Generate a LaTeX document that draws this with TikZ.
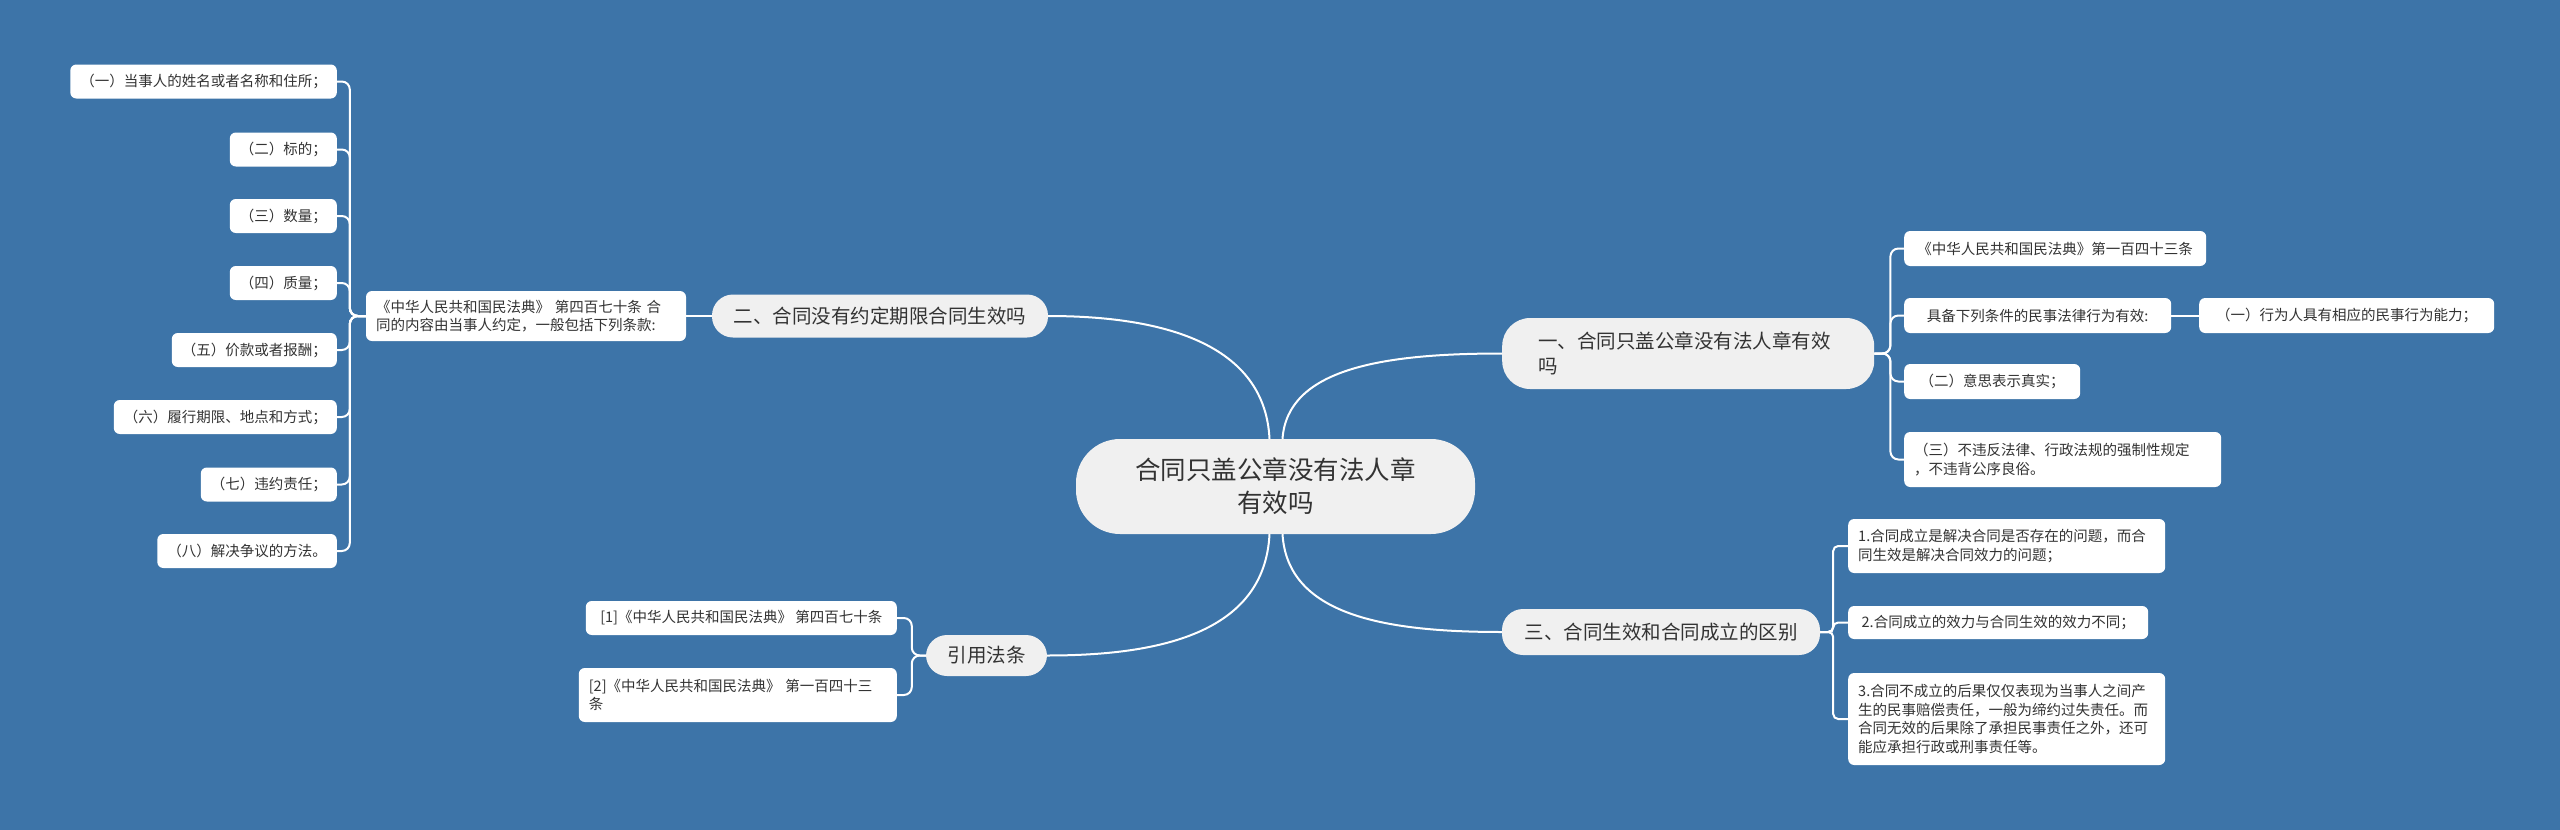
\documentclass[tikz,border=0pt]{standalone}
\usepackage{fontspec}
\setmainfont{Noto Sans CJK SC}
\definecolor{bgblue}{RGB}{61,116,168}
\definecolor{pillgray}{RGB}{240,240,240}
\definecolor{inkgray}{RGB}{51,51,51}
\tikzset{
  root/.style={fill=pillgray, text=inkgray, rounded corners=44pt, align=center,
    font=\fontsize{25.5}{33}\selectfont, minimum width=399pt, minimum height=95pt, inner sep=0pt},
  branch/.style={fill=pillgray, text=inkgray, rounded corners=21pt,
    font=\fontsize{19.5}{25}\selectfont, inner sep=0pt},
  leaf/.style={fill=white, text=inkgray, rounded corners=6pt,
    font=\fontsize{14.5}{18.7}\selectfont, inner xsep=10pt, inner ysep=0pt},
  link/.style={draw=white, line width=2pt, rounded corners=8pt},
}
\begin{document}
\begin{tikzpicture}[x=1pt, y=-1pt]
    % Background (pixel grid: 2560 x 830, y downwards)
    \fill[bgblue] (0,0) rectangle (2560,830);
    \useasboundingbox (0,0) rectangle (2560,830);

    % Root and main topics
    \node[root] (root) at (1275.5,486.5) {合同只盖公章没有法人章\\有效吗};
    \node[branch, anchor=west, rounded corners=28pt, inner xsep=36pt, text width=300pt,
      align=left, minimum height=71pt] (b1) at (1502,353.5) {一、合同只盖公章没有法人章有效\\吗};
    \node[branch, minimum width=336pt, minimum height=43pt] (b2) at (880,316) {二、合同没有约定期限合同生效吗};
    \node[branch, minimum width=318pt, minimum height=46pt] (b3) at (1661,632) {三、合同生效和合同成立的区别};
    \node[branch, minimum width=121pt, minimum height=41pt] (b4) at (986.5,655.5) {引用法条};

    % Root -> topics
    \draw[link] ([xshift=7pt]root.north) .. controls +(5,-70) and +(-120,0) .. (b1.west);
    \draw[link] ([xshift=-6pt]root.north) .. controls +(-5,-101) and +(102,0) .. (b2.east);
    \draw[link] ([xshift=7pt]root.south) .. controls +(5,80) and +(-120,0) .. (b3.west);
    \draw[link] ([xshift=-6pt]root.south) .. controls +(-5,100) and +(110,0) .. (b4.east);

    % Topic 2: article 470 and its eight clauses
    \node[leaf, text width=300pt, align=left, minimum height=50pt] (l0) at (526,316)
      {《中华人民共和国民法典》 第四百七十条 合\\同的内容由当事人约定，一般包括下列条款:};
    \draw[link] (b2.west) -- (l0.east);
    \foreach \i/\y/\txt in {1/81.5/{（一）当事人的姓名或者名称和住所；}, 2/149.5/{（二）标的；},
        3/216/{（三）数量；}, 4/283/{（四）质量；}, 5/350/{（五）价款或者报酬；},
        6/417/{（六）履行期限、地点和方式；}, 7/484.5/{（七）违约责任；}, 8/551/{（八）解决争议的方法。}} {
        \node[leaf, anchor=east, minimum height=34pt] (l\i) at (337,\y) {\txt};
        \draw[link] (l0.west) -- ++(-16,0) |- (l\i.east);
    }

    % Topic 1: conditions of article 143
    \node[leaf, anchor=west, minimum width=302pt, minimum height=35pt] (r1) at (1904,248.5) {《中华人民共和国民法典》第一百四十三条};
    \node[leaf, anchor=west, minimum width=267pt, minimum height=35pt] (r2) at (1904,315.5) {具备下列条件的民事法律行为有效:};
    \node[leaf, anchor=west, minimum width=295pt, minimum height=35pt] (r2a) at (2199,315.5) {（一）行为人具有相应的民事行为能力；};
    \node[leaf, anchor=west, minimum width=176pt, minimum height=35pt] (r3) at (1904,381.5) {（二）意思表示真实；};
    \node[leaf, anchor=west, text width=297pt, align=left, minimum height=55pt] (r4) at (1904,459.5)
      {（三）不违反法律、行政法规的强制性规定\\，不违背公序良俗。};
    \foreach \n in {r1,r2,r3,r4}
        \draw[link] (b1.east) -- ++(16,0) |- (\n.west);
    \draw[link] (r2.east) -- (r2a.west);

    % Topic 3: formation vs. validity
    \node[leaf, anchor=west, text width=297pt, align=left, minimum height=54pt] (t1) at (1848,546)
      {1.合同成立是解决合同是否存在的问题，而合\\同生效是解决合同效力的问题；};
    \node[leaf, anchor=west, minimum width=300pt, minimum height=33pt] (t2) at (1848,622.5) {2.合同成立的效力与合同生效的效力不同；};
    \node[leaf, anchor=west, text width=297pt, align=left, minimum height=92pt] (t3) at (1848,719)
      {3.合同不成立的后果仅仅表现为当事人之间产\\生的民事赔偿责任，一般为缔约过失责任。而\\合同无效的后果除了承担民事责任之外，还可\\能应承担行政或刑事责任等。};
    \foreach \n in {t1,t2,t3}
        \draw[link, rounded corners=5pt] (b3.east) -- ++(13,0) |- (\n.west);

    % Cited articles
    \node[leaf, anchor=east, minimum width=311pt, minimum height=34pt] (c1) at (897,618) {[1]《中华人民共和国民法典》 第四百七十条};
    \node[leaf, anchor=east, text width=298pt, align=left, minimum height=54pt] (c2) at (897,695)
      {[2]《中华人民共和国民法典》 第一百四十三\\条};
    \foreach \n in {c1,c2}
        \draw[link] (b4.west) -- ++(-14,0) |- (\n.east);
\end{tikzpicture}
\end{document}
